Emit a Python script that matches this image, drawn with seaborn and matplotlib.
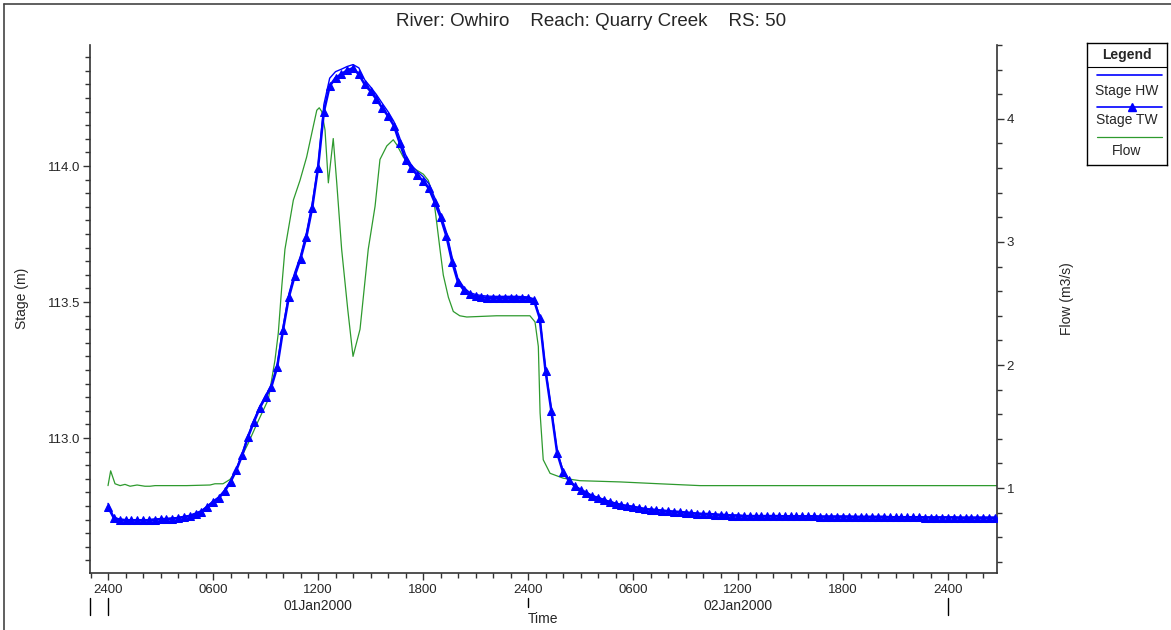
import pandas as pd
import seaborn as sns
import matplotlib.pyplot as plt
import matplotlib.dates as mdates
import matplotlib.transforms as mtransforms
from matplotlib.ticker import MultipleLocator, FuncFormatter
from matplotlib.lines import Line2D

start = pd.Timestamp("2000-01-01 00:00")

# stage readings every 20 minutes from 2400 31Dec1999
stage_tw = [
    112.747, 112.706, 112.700, 112.698, 112.698, 112.698, 112.698, 112.698, 112.700, 112.702,
    112.702, 112.704, 112.706, 112.710, 112.713, 112.721, 112.730, 112.747, 112.765, 112.780,
    112.805, 112.839, 112.882, 112.937, 113.004, 113.059, 113.110, 113.151, 113.188, 113.261,
    113.397, 113.518, 113.596, 113.659, 113.739, 113.846, 113.993, 114.199, 114.294, 114.324,
    114.338, 114.352, 114.360, 114.337, 114.300, 114.275, 114.246, 114.214, 114.184, 114.149,
    114.085, 114.024, 113.993, 113.967, 113.945, 113.918, 113.867, 113.812, 113.743, 113.647,
    113.573, 113.544, 113.528, 113.522, 113.518, 113.516, 113.515, 113.515, 113.515, 113.515,
    113.515, 113.515, 113.514, 113.508, 113.441, 113.247, 113.100, 112.945, 112.875, 112.845,
    112.823, 112.809, 112.798, 112.786, 112.780, 112.772, 112.765, 112.759, 112.754, 112.750,
    112.747, 112.743, 112.739, 112.737, 112.735, 112.733, 112.731, 112.729, 112.728, 112.726,
    112.724, 112.722, 112.721, 112.721, 112.719, 112.717, 112.717, 112.715, 112.715, 112.713,
    112.713, 112.713, 112.713, 112.713, 112.713, 112.713, 112.712, 112.712, 112.712, 112.712,
    112.712, 112.712, 112.711, 112.711, 112.711, 112.711, 112.711, 112.711, 112.710, 112.710,
    112.710, 112.710, 112.710, 112.710, 112.709, 112.709, 112.709, 112.709, 112.709, 112.709,
    112.708, 112.708, 112.708, 112.708, 112.708, 112.708, 112.707, 112.707, 112.707, 112.707,
    112.707, 112.707, 112.707,
]
stage_hw = [
    112.760, 112.708, 112.702, 112.700, 112.700, 112.700, 112.700, 112.700, 112.702, 112.704,
    112.704, 112.706, 112.708, 112.712, 112.716, 112.724, 112.733, 112.750, 112.768, 112.784,
    112.809, 112.844, 112.888, 112.944, 113.010, 113.066, 113.116, 113.157, 113.194, 113.269,
    113.409, 113.530, 113.608, 113.670, 113.753, 113.863, 113.999, 114.226, 114.323, 114.347,
    114.356, 114.366, 114.373, 114.361, 114.317, 114.291, 114.263, 114.231, 114.200, 114.164,
    114.104, 114.042, 114.004, 113.980, 113.961, 113.935, 113.884, 113.825, 113.758, 113.664,
    113.586, 113.554, 113.535, 113.528, 113.524, 113.522, 113.521, 113.521, 113.521, 113.521,
    113.521, 113.520, 113.519, 113.512, 113.448, 113.255, 113.107, 112.952, 112.880, 112.849,
    112.826, 112.812, 112.801, 112.789, 112.782, 112.774, 112.767, 112.761, 112.755, 112.752,
    112.749, 112.745, 112.741, 112.739, 112.737, 112.735, 112.733, 112.731, 112.730, 112.728,
    112.726, 112.724, 112.722, 112.722, 112.721, 112.719, 112.719, 112.717, 112.717, 112.715,
    112.715, 112.715, 112.715, 112.715, 112.715, 112.715, 112.714, 112.714, 112.714, 112.714,
    112.714, 112.714, 112.713, 112.713, 112.713, 112.713, 112.713, 112.713, 112.712, 112.712,
    112.712, 112.712, 112.712, 112.712, 112.711, 112.711, 112.711, 112.711, 112.711, 112.711,
    112.710, 112.710, 112.710, 112.710, 112.710, 112.710, 112.709, 112.709, 112.709, 112.709,
    112.709, 112.709, 112.709,
]

# flow, irregular hours after 2400 31Dec1999
flow_hours = [
    0.0, 0.15, 0.4, 0.69, 0.97, 1.26, 1.66, 2.11, 2.4, 2.69,
    3.5, 4.5, 5.83, 6.11, 6.57, 6.97, 7.35, 7.54, 8.0, 8.5,
    9.16, 9.54, 9.73, 9.93, 10.11, 10.59, 10.97, 11.35, 11.73, 11.93,
    12.07, 12.21, 12.4, 12.59, 12.87, 13.07, 13.35, 13.7, 14.0, 14.4,
    14.87, 15.26, 15.54, 15.93, 16.3, 16.5, 16.87, 17.45, 18.02, 18.3,
    18.59, 18.78, 18.97, 19.16, 19.45, 19.73, 20.1, 20.5, 22.2, 24.11,
    24.4, 24.59, 24.69, 24.87, 25.26, 26.02, 26.97, 29.26, 31.5, 33.83,
    40.0, 50.8,
]
flow_values = [
    1.02, 1.14, 1.035, 1.02, 1.03, 1.015, 1.025, 1.015, 1.015, 1.02,
    1.02, 1.02, 1.025, 1.035, 1.035, 1.07, 1.15, 1.23, 1.36, 1.52,
    1.72, 2.04, 2.26, 2.64, 2.94, 3.34, 3.50, 3.69, 3.94, 4.07,
    4.09, 4.06, 3.91, 3.48, 3.84, 3.48, 2.94, 2.45, 2.07, 2.29,
    2.94, 3.29, 3.67, 3.78, 3.83, 3.79, 3.69, 3.60, 3.55, 3.50,
    3.37, 3.16, 2.94, 2.73, 2.55, 2.435, 2.40, 2.39, 2.40, 2.40,
    2.35, 2.15, 1.61, 1.23, 1.12, 1.08, 1.06, 1.05, 1.035, 1.02,
    1.02, 1.02,
]

times = pd.date_range(start, periods=len(stage_tw), freq="20min")
flow_times = start + pd.to_timedelta(flow_hours, unit="h")

sns.set_style("ticks")
plt.rcParams["font.family"] = ["Liberation Sans", "DejaVu Sans"]

GREEN = "#2e9a2e"

fig = plt.figure(figsize=(11.71, 6.30), dpi=100)
ax = fig.add_axes([90 / 1171, 57 / 630, 907 / 1171, 528 / 630])
ax2 = ax.twinx()

sns.lineplot(x=flow_times, y=flow_values, ax=ax2, color=GREEN, lw=0.9, legend=False)
sns.lineplot(x=times, y=stage_hw, ax=ax, color="blue", lw=1.0, legend=False)
sns.lineplot(x=times, y=stage_tw, ax=ax, color="blue", lw=1.8, marker="^",
             markersize=6.2, markeredgecolor="blue", markerfacecolor="blue", legend=False)

# blue on top of green
ax.set_zorder(ax2.get_zorder() + 1)
ax.patch.set_visible(False)

ax.set_xlim(start - pd.Timedelta(hours=1.03), start + pd.Timedelta(hours=50.8))
ax.set_ylim(112.504, 114.445)
ax2.set_ylim(0.31, 4.60)

for s in ["top", "right"]:
    ax.spines[s].set_visible(False)
for s in ["top", "left", "bottom"]:
    ax2.spines[s].set_visible(False)
for sp in [ax.spines["left"], ax.spines["bottom"], ax2.spines["right"]]:
    sp.set_color("#333333")
    sp.set_linewidth(1.2)


def hhmm(x, pos):
    t = mdates.num2date(x)
    return "2400" if (t.hour == 0 and t.minute == 0) else t.strftime("%H%M")


ax.xaxis.set_major_locator(mdates.HourLocator(byhour=[0, 6, 12, 18]))
ax.xaxis.set_minor_locator(mdates.HourLocator())
ax.xaxis.set_major_formatter(FuncFormatter(hhmm))
ax.yaxis.set_major_locator(MultipleLocator(0.5))
ax.yaxis.set_minor_locator(MultipleLocator(0.05))
ax.yaxis.set_major_formatter(FuncFormatter(lambda v, p: f"{v:.1f}"))
ax2.yaxis.set_major_locator(MultipleLocator(1))
ax2.yaxis.set_minor_locator(MultipleLocator(0.2))

for a in [ax, ax2]:
    a.tick_params(which="major", direction="out", length=5, width=1, color="#333333",
                  labelsize=9.5, pad=2)
    a.tick_params(which="minor", direction="out", length=3.5, width=1, color="#333333")
ax.tick_params(axis="x", pad=3)

ax.set_xlabel("Time", fontsize=10)
ax.xaxis.set_label_coords(0.5, -0.074)
ax.set_ylabel("Stage (m)", fontsize=10)
ax.yaxis.set_label_coords(-0.067, 0.52)
ax2.set_ylabel("Flow (m3/s)", fontsize=10)
ax2.yaxis.set_label_coords(1.0695, 0.52)

# date row and day separators under the time axis
trans = mtransforms.blended_transform_factory(ax.transData, ax.transAxes)
for d in ["2000-01-01 12:00", "2000-01-02 12:00"]:
    ts = pd.Timestamp(d)
    ax.text(mdates.date2num(ts), -0.062, ts.strftime("%d%b%Y"), transform=trans,
            ha="center", va="center", fontsize=10)
bars = [(start - pd.Timedelta(hours=1.03), -0.080),
        (start, -0.080),
        (start + pd.Timedelta(hours=24), -0.064),
        (start + pd.Timedelta(hours=48), -0.080)]
for ts, y1 in bars:
    xd = mdates.date2num(ts)
    ax.add_line(Line2D([xd, xd], [-0.047, y1], transform=trans, color="black",
                       lw=1, clip_on=False))

fig.text(0.505, 1 - 22 / 630, "River: Owhiro    Reach: Quarry Creek    RS: 50",
         ha="center", va="center", fontsize=13.5)

# outer frame lines (left and top)
fig.add_artist(Line2D([4 / 1171, 4 / 1171], [0, 1 - 4 / 630], transform=fig.transFigure,
                      color="#444444", lw=1.2))
fig.add_artist(Line2D([4 / 1171, 1], [1 - 4 / 630, 1 - 4 / 630], transform=fig.transFigure,
                      color="#444444", lw=1.2))

# legend box
lax = fig.add_axes([1087 / 1171, (630 - 165) / 630, 80 / 1171, 122 / 630])
lax.set_xlim(0, 1)
lax.set_ylim(0, 1)
lax.set_xticks([])
lax.set_yticks([])
for sp in lax.spines.values():
    sp.set_visible(True)
    sp.set_color("black")
    sp.set_linewidth(1)
lax.text(0.5, 0.902, "Legend", ha="center", va="center", fontsize=10, fontweight="bold")
lax.plot([0, 1], [0.806, 0.806], color="black", lw=0.8)
lax.plot([0.125, 0.9375], [0.738, 0.738], color="blue", lw=1.2)
lax.text(0.5, 0.607, "Stage HW", ha="center", va="center", fontsize=10)
lax.plot([0.125, 0.9375], [0.478, 0.478], color="blue", lw=1.2)
lax.plot([0.56], [0.478], marker="^", color="blue", ms=5.5)
lax.text(0.5, 0.365, "Stage TW", ha="center", va="center", fontsize=10)
lax.plot([0.125, 0.9375], [0.232, 0.232], color=GREEN, lw=0.9)
lax.text(0.5, 0.115, "Flow", ha="center", va="center", fontsize=10)

fig.savefig("out.png", dpi=100)
